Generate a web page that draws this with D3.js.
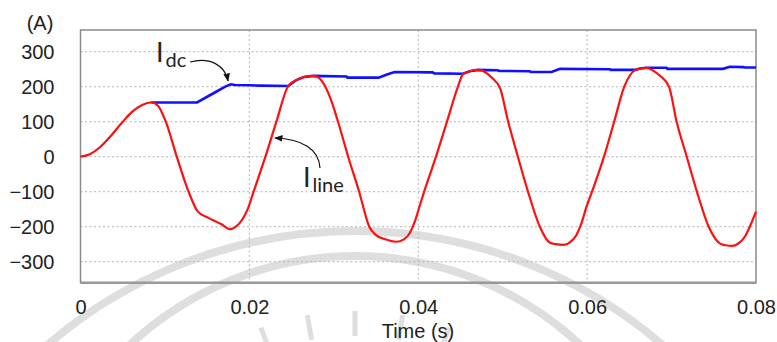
<!DOCTYPE html>
<html>
<head>
<meta charset="utf-8">
<script src="https://cdn.jsdelivr.net/npm/d3@7"></script>
<style>
  html, body { margin: 0; padding: 0; background: #fff; }
  svg { display: block; }
  .tick text { font-family: Arial, "Liberation Sans", sans-serif; font-size: 20px; fill: #222; }
</style>
</head>
<body>
<script>
var width = 777;
var height = 342;

// time in ms, current in A
var lineTime = [0, 1.1, 2.3, 3.5, 4.9, 6.1, 7.3, 8.4, 9.2, 10.1, 11.4, 12.8, 13.9, 15.1, 16.7, 17.7,
    18.4, 19.2, 19.8, 20.5, 21.9, 23.2, 24.6, 25.5, 26.5, 27.6, 28.2, 29.0, 29.7, 30.5, 31.7, 33.0, 34.2, 35.0,
    36.1, 37.4, 38.3, 39.0, 39.6, 40.2, 40.7, 42.1, 43.4, 44.7, 45.3, 46.1, 47.1, 47.9, 48.7, 49.7, 50.6, 51.8,
    53.0, 54.4, 55.6, 56.3, 57.2, 58.0, 58.7, 59.3, 59.9, 60.5, 62.0, 63.2, 64.4, 65.7, 66.3, 67.0, 67.7, 68.6,
    69.7, 70.6, 71.8, 73.0, 74.4, 75.8, 76.4, 77.2, 77.9, 78.7, 79.3, 80.0];
var lineCurrent = [0, 7, 27, 57, 97, 128, 148, 155, 145, 100, 0, -100, -157, -174, -193, -207,
    -200, -178, -150, -100, 0, 100, 202, 218, 228, 231, 226, 200, 160, 100, 0, -100, -200, -224,
    -236, -243, -236, -218, -185, -138, -100, 0, 100, 200, 236, 244, 248, 242, 226, 195, 105, 0,
    -100, -200, -246, -250, -252, -244, -225, -192, -145, -105, 0, 100, 200, 248, 252, 254, 248, 232,
    200, 100, 0, -100, -200, -249, -253, -255, -248, -228, -198, -157];

var dcTime = [8.4, 13.8, 15.8, 17.2, 17.8, 18.3, 20.1, 21.3, 24.6, 25.5, 26.5, 27.6, 31.5, 31.6, 35.3, 36.3,
    37.2, 41.7, 41.9, 45.3, 46.1, 47.1, 49.4, 49.6, 53.2, 53.3, 55.8, 56.8, 62.7, 62.8, 65.7, 66.3, 67.0,
    69.4, 69.5, 76.1, 76.9, 78.5, 78.7, 80.0];
var dcCurrent = [155, 155, 182, 201, 207, 205, 204, 203, 202, 218, 228, 231, 229, 226, 226, 235,
    242, 241, 238, 237, 244, 248, 247, 245, 244, 242, 242, 251, 250, 248, 248, 252, 254,
    254, 251, 251, 257, 256, 255, 255];

var yTicks = [-300, -200, -100, 0, 100, 200, 300];
var xTicks = [0, 0.02, 0.04, 0.06, 0.08];

var margin = {left: 80.5, right: 21, top: 30, bottom: 59.3};

var svg = d3.select("body").append("svg")
    .attr("width", width)
    .attr("height", height);

var x = d3.scaleLinear().domain([0, 0.08]).range([margin.left, width - margin.right]);
var y = d3.scaleLinear().domain([-360, 362]).range([height - margin.bottom, margin.top]);

// faint watermark arcs behind the plot
var wm = svg.append("g").attr("fill", "none").attr("stroke", "#dedede").attr("stroke-width", 8);
wm.append("circle").attr("cx", 355).attr("cy", 703).attr("r", 472);
wm.append("circle").attr("cx", 355).attr("cy", 586).attr("r", 330);
[-40, -30, -20, -10, 0, 10, 20, 30, 40].forEach(function(a) {
    var r = a * Math.PI / 180;
    wm.append("line")
        .attr("x1", 355 + 250 * Math.sin(r)).attr("y1", 586 - 250 * Math.cos(r))
        .attr("x2", 355 + 275 * Math.sin(r)).attr("y2", 586 - 275 * Math.cos(r))
        .attr("stroke-width", 5);
});

// grid
svg.append("g")
    .selectAll("line.h")
    .data(yTicks)
    .enter().append("line")
    .attr("x1", x(0)).attr("x2", x(0.08))
    .attr("y1", (d) => y(d)).attr("y2", (d) => y(d))
    .attr("stroke", "#b4b4b4").attr("stroke-dasharray", "2,2.5");
svg.append("g")
    .selectAll("line.v")
    .data([0.02, 0.04, 0.06])
    .enter().append("line")
    .attr("x1", (d) => x(d)).attr("x2", (d) => x(d))
    .attr("y1", y.range()[1]).attr("y2", y.range()[0])
    .attr("stroke", "#b4b4b4").attr("stroke-dasharray", "2,2.5");

// frame
svg.append("rect")
    .attr("x", x(0)).attr("y", margin.top)
    .attr("width", x(0.08) - x(0)).attr("height", y(-360) - margin.top)
    .attr("fill", "none").attr("stroke", "#8a8a8a").attr("stroke-width", 1.5);
svg.append("line")
    .attr("x1", x(0)).attr("x2", x(0.08))
    .attr("y1", y(-360)).attr("y2", y(-360))
    .attr("stroke", "#999").attr("stroke-width", 2.5);

// axes
var yAxis = svg.append("g")
    .attr("transform", `translate(${x(0)},0)`)
    .call(d3.axisLeft(y).tickValues(yTicks).tickSize(0).tickPadding(26));
yAxis.select(".domain").remove();

var xAxis = svg.append("g")
    .attr("transform", `translate(0,${y(-360)})`)
    .call(d3.axisBottom(x).tickValues(xTicks).tickSize(0).tickPadding(17)
        .tickFormat((d) => d === 0 ? "0" : d3.format(".2f")(d)));
xAxis.select(".domain").remove();

svg.append("text")
    .attr("x", 418).attr("y", 338)
    .attr("text-anchor", "middle")
    .attr("font-family", "Arial, 'Liberation Sans', sans-serif")
    .attr("font-size", 20).attr("fill", "#222")
    .text("Time (s)");

svg.append("text")
    .attr("x", 40).attr("y", 30)
    .attr("text-anchor", "middle")
    .attr("font-family", "Arial, 'Liberation Sans', sans-serif")
    .attr("font-size", 20).attr("fill", "#222")
    .text("(A)");

// series
var dcData = dcTime.map((t, i) => ({t: t / 1000, v: dcCurrent[i]}));
var lineData = lineTime.map((t, i) => ({t: t / 1000, v: lineCurrent[i]}));

svg.append("path")
    .datum(dcData)
    .attr("fill", "none")
    .attr("stroke", "#1010ff")
    .attr("stroke-width", 2.6)
    .attr("d", d3.line().x((d) => x(d.t)).y((d) => y(d.v)));

svg.append("path")
    .datum(lineData)
    .attr("fill", "none")
    .attr("stroke", "#ff1010")
    .attr("stroke-width", 2.2)
    .attr("d", d3.line().curve(d3.curveMonotoneX).x((d) => x(d.t)).y((d) => y(d.v)));

// annotations
svg.append("defs").append("marker")
    .attr("id", "arr")
    .attr("viewBox", "0 0 10 10")
    .attr("refX", 9).attr("refY", 5)
    .attr("markerWidth", 7).attr("markerHeight", 7)
    .attr("orient", "auto")
    .append("path").attr("d", "M0,1L10,5L0,9z").attr("fill", "#111");

function label(xp, yp, main, sub) {
    var t = svg.append("text")
        .attr("x", xp).attr("y", yp)
        .attr("font-family", "Lato, 'Open Sans', sans-serif")
        .attr("fill", "#222");
    t.append("tspan").attr("font-size", 27).text(main);
    t.append("tspan").attr("font-size", 20).attr("dx", 2).attr("dy", 5).text(sub);
}
label(156, 61.5, "I", "dc");
label(303, 186.5, "I", "line");

svg.append("path")
    .attr("d", "M190,62 C210,57 225,65 228,81")
    .attr("fill", "none").attr("stroke", "#111").attr("stroke-width", 1.2)
    .attr("marker-end", "url(#arr)");
svg.append("path")
    .attr("d", "M320,168 C319,149 302,139 275,138")
    .attr("fill", "none").attr("stroke", "#111").attr("stroke-width", 1.2)
    .attr("marker-end", "url(#arr)");
</script>
</body>
</html>
